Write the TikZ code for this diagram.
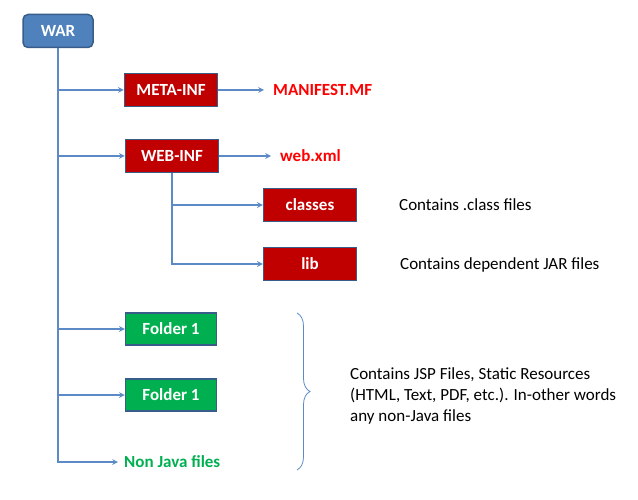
\documentclass[tikz,border=0pt]{standalone}
\usepackage{fontspec}
\setmainfont{Carlito}
\usetikzlibrary{arrows, positioning, decorations.pathreplacing}
\definecolor{warblue}{HTML}{4F81BD}
\definecolor{edgeblue}{HTML}{385D8A}
\definecolor{linkblue}{HTML}{5B8AC6}
\definecolor{boxred}{HTML}{C00000}
\definecolor{boxgreen}{HTML}{00B050}
\newcommand{\lbl}{\fontsize{17}{21}\selectfont}
\tikzstyle{arrow} = [->,>=stealth,draw=linkblue,line width=1.5pt]
\tikzstyle{redbox} = [draw=edgeblue,line width=1.5pt,fill=boxred,text=white,minimum width=93pt,minimum height=33pt]
\tikzstyle{greenbox} = [draw=edgeblue,line width=1.5pt,fill=boxgreen,text=white,minimum width=91pt,minimum height=32pt]
\tikzstyle{note} = [anchor=west,align=left,inner sep=0pt]

\begin{document}
\begin{tikzpicture}[x=1pt,y=-1pt,every node/.style={font=\lbl}]
    \useasboundingbox (0,0) rectangle (638,500);

    % --- root node
    \node[draw=edgeblue,line width=1.5pt,fill=warblue,rounded corners=5pt,text=white,minimum width=70pt,minimum height=33pt] (war) at (58,31) {\lbl\bfseries WAR};

    % --- META-INF
    \node[redbox] (meta) at (171,90) {\lbl\bfseries META-INF};
    \node[anchor=west,text=red,inner sep=0pt] (manifest) at (273,90) {\lbl\bfseries MANIFEST.MF};
    \draw[arrow] (war.south) |- (meta.west);
    \draw[arrow] (meta.east) -- ([xshift=-9pt]manifest.west);

    % --- WEB-INF
    \node[redbox] (web) at (172,156) {\lbl\bfseries WEB-INF};
    \node[anchor=west,text=red,inner sep=0pt] (webxml) at (280,156) {\lbl\bfseries web.xml};
    \draw[arrow] (war.south) |- (web.west);
    \draw[arrow] (web.east) -- ([xshift=-9pt]webxml.west);

    % --- classes et lib
    \node[redbox] (classes) at (310,205) {\lbl\bfseries classes};
    \node[redbox] (lib) at (310,264) {\lbl\bfseries lib};
    \draw[arrow] (web.south) |- (classes.west);
    \draw[arrow] (web.south) |- (lib.west);
    \node[note] (classnote) at (399,205) {Contains .class files};
    \node[note] (libnote) at (400,265) {Contains dependent JAR files};

    % --- folders
    \node[greenbox] (folderA) at (171,329) {\lbl\bfseries Folder 1};
    \node[greenbox] (folderB) at (171,395) {\lbl\bfseries Folder 1};
    \node[anchor=west,text=boxgreen,inner sep=0pt] (nonjava) at (124,462) {\lbl\bfseries Non Java files};
    \draw[arrow] (war.south) |- (folderA.west);
    \draw[arrow] (war.south) |- (folderB.west);
    \draw[arrow] (war.south) |- ([xshift=-6pt]nonjava.west);

    % --- brace
    \coordinate (bracetop) at (297,313);
    \coordinate (bracebot) at (297,470);
    \draw[linkblue,line width=0.8pt,decorate,decoration={brace,amplitude=13pt}] (bracetop) -- (bracebot);
    \node[note] (webnote) at (350,396) {Contains JSP Files, Static Resources\\(HTML, Text, PDF, etc.). In-other words\\any non-Java files};

\end{tikzpicture}
\end{document}
